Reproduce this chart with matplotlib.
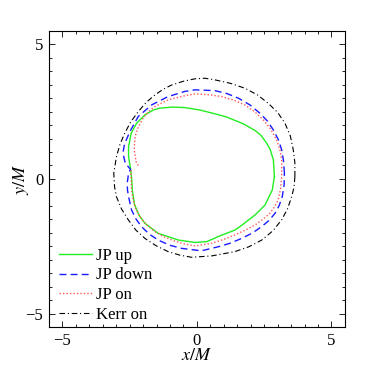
import matplotlib
matplotlib.use("Agg")
import matplotlib.pyplot as plt
from matplotlib.ticker import MultipleLocator

plt.rcParams['font.family'] = ['Liberation Serif', 'DejaVu Serif']
plt.rcParams['mathtext.fontset'] = 'stix'

# JP up (green solid), closed contour
up_x = [2.88, 2.84, 2.72, 2.59, 2.38, 2.16, 1.72, 1.10, 0.67, 0.11, -0.45, -0.90,
        -1.38, -1.62, -1.93, -2.24, -2.44, -2.54, -2.54, -2.47, -2.42, -2.40, -2.32,
        -2.15, -1.93, -1.44, -0.69, -0.07, 0.36, 0.55, 0.79, 1.41, 1.60, 2.16, 2.53,
        2.80, 2.88]
up_y = [0.09, 0.71, 1.10, 1.33, 1.62, 1.80, 2.05, 2.30, 2.42, 2.56, 2.65, 2.67,
        2.63, 2.56, 2.38, 2.07, 1.70, 1.20, 0.83, 0.40, -0.04, -0.41, -0.95,
        -1.35, -1.65, -2.02, -2.27, -2.36, -2.33, -2.25, -2.14, -1.90, -1.77, -1.34, -0.97,
        -0.41, 0.09]

# JP down (blue dashed)
down_x = [3.25, 3.22, 3.15, 3.02, 2.84, 2.62, 2.34, 1.97, 1.54, 1.12, 0.67, -0.07,
          -0.45, -1.07, -1.68, -2.18, -2.49, -2.69, -2.75, -2.66, -2.47, -2.54, -2.59,
          -2.58, -2.54, -2.43, -2.27, -2.06, -1.77, -1.44, -1.02, -0.57, 0.17, 0.79,
          1.23, 1.66, 2.06, 2.41, 2.68, 2.90, 3.06, 3.17, 3.24, 3.25]
down_y = [0.21, 0.65, 1.08, 1.47, 1.82, 2.15, 2.44, 2.75, 3.00, 3.17, 3.28, 3.31,
          3.25, 3.06, 2.75, 2.32, 1.76, 1.30, 0.96, 0.58, 0.36, 0.21, -0.16,
          -0.41, -0.66, -1.15, -1.48, -1.77, -2.05, -2.27, -2.46, -2.58, -2.67, -2.52,
          -2.39, -2.21, -2.01, -1.77, -1.54, -1.28, -0.98, -0.66, -0.22, 0.21]

# JP on (red dotted), open curve
on_x = [-2.45, -2.43, -2.37, -2.28, -2.10, -1.87, -1.57, -1.25, -0.85, -0.45, -0.07,
        0.55, 0.98, 1.41, 1.80, 2.16, 2.45, 2.71, 2.88, 3.02, 3.11, 3.15, 3.15, 3.08,
        2.96, 2.74, 2.47, 2.14, 1.78, 1.36, 0.92, 0.42, -0.07, -0.45, -1.07, -1.56,
        -1.80, -2.00, -2.18, -2.30, -2.33, -2.26, -2.15]
on_y = [0.33, -0.41, -0.76, -1.09, -1.43, -1.71, -1.95, -2.14, -2.30, -2.42, -2.49,
        -2.39, -2.25, -2.08, -1.90, -1.71, -1.50, -1.28, -1.04, -0.78, -0.35, 0.09, 0.71,
        1.10, 1.45, 1.85, 2.19, 2.50, 2.75, 2.93, 3.06, 3.13, 3.16, 3.09, 2.94, 2.69,
        2.50, 2.26, 1.92, 1.57, 1.08, 0.64, 0.45]

# Kerr on (black dash-dot)
kerr_x = [3.64, 3.64, 3.58, 3.47, 3.27, 3.00, 2.65, 2.25, 1.78, 1.25, 0.67, 0.30,
          -0.07, -0.50, -0.94, -1.27, -1.56, -1.89, -2.18, -2.46, -2.68, -2.86, -2.99,
          -3.09, -3.06, -2.99, -2.80, -2.55, -2.27, -1.93, -1.52, -1.07, -0.64, -0.20,
          0.55, 1.41, 1.93, 2.41, 2.82, 3.15, 3.37, 3.52, 3.61, 3.64]
kerr_y = [0.09, 0.60, 1.08, 1.60, 2.07, 2.47, 2.81, 3.12, 3.37, 3.55, 3.68, 3.74,
          3.72, 3.63, 3.49, 3.32, 3.12, 2.84, 2.50, 2.12, 1.70, 1.28, 0.83,
          0.21, -0.29, -0.66, -1.12, -1.52, -1.90, -2.21, -2.48, -2.70, -2.83, -2.91,
          -2.86, -2.70, -2.52, -2.27, -1.93, -1.52, -1.10, -0.66, -0.30, 0.09]

fig = plt.figure(figsize=(3.82, 3.72), dpi=100)
ax = fig.add_axes([0.128, 0.121, 0.775, 0.796])

ax.plot(up_x, up_y, color='#22ee22', lw=1.0, label='JP up')
ax.plot(down_x, down_y, color='#1a1aff', lw=1.0, ls=(0, (5, 3)), label='JP down')
ax.plot(on_x, on_y, color='#ff5555', lw=1.0, ls=(0, (1, 1.5)), label='JP on')
ax.plot(kerr_x, kerr_y, color='black', lw=0.8, ls=(0, (5, 2.5, 1, 2.5)), label='Kerr on')

ax.set_xlim(-5.5, 5.5)
ax.set_ylim(-5.5, 5.5)
ax.set_xticks([-5, 0, 5])
ax.set_yticks([-5, 0, 5])
ax.xaxis.set_minor_locator(MultipleLocator(0.5))
ax.yaxis.set_minor_locator(MultipleLocator(0.5))
ax.tick_params(which='both', direction='in', top=True, right=True, labelsize=12,
               width=0.6)
ax.tick_params(which='major', length=4, pad=4)
ax.tick_params(which='minor', length=2)
for s in ax.spines.values():
    s.set_linewidth(0.8)

ax.set_xlabel('$x/M$', fontsize=13, labelpad=-1)
ax.set_ylabel('$y/M$', fontsize=13, labelpad=-4)

ax.legend(loc='lower left', bbox_to_anchor=(0.012, -0.008), frameon=False,
          fontsize=12, handlelength=2.0, handletextpad=0.2, labelspacing=0.22,
          borderaxespad=0.0)

fig.savefig('out.png', dpi=100)
